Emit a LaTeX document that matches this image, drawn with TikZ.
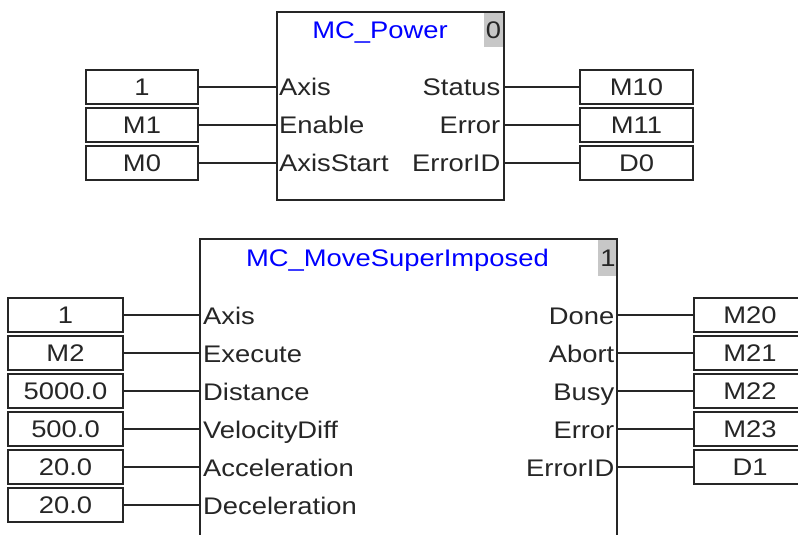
\documentclass[tikz,border=0pt]{standalone}
\usepackage{fontspec}
\setmainfont[FakeStretch=1.14]{Liberation Sans}
\begin{document}
\begin{tikzpicture}[x=1bp,y=-1bp,
  every node/.style={font=\fontsize{24bp}{28bp}\selectfont},
  wire/.style={line width=1.4bp, draw=black!85},
  valbox/.style={draw=black!85, line width=1.6bp, minimum height=34bp, inner sep=0pt, text height=17bp, text depth=0pt, text=black!85},
  pinin/.style={anchor=base west, inner sep=0pt, text=black!85},
  pinout/.style={anchor=base east, inner sep=0pt, text=black!85},
  fbtitle/.style={text=blue, inner sep=0pt, anchor=base}]
\clip (0,0) rectangle (798,535);
\fill[white] (0,0) rectangle (798,535);

% ---------- MC_Power block ----------
\fill[black!22] (484,11) rectangle (503,47);
\node[inner sep=0pt, text=black!85, anchor=base] (n0) at (493.5,38.5) {0};
\node[draw=black!85, line width=1.6bp, anchor=north west, minimum width=227bp, minimum height=188bp, inner sep=0pt] (pw) at (276,11) {};
\node[fbtitle] (pwt) at (380,39) {MC\_Power};

\foreach \y/\nm/\lbl in {87/a/Axis, 125/b/Enable, 163/c/AxisStart}{
  \node[pinin] (pwi\nm) at (279,\y+9) {\lbl};
  \coordinate (pwic\nm) at (276,\y);
}
\foreach \y/\nm/\lbl in {87/a/Status, 125/b/Error, 163/c/ErrorID}{
  \node[pinout] (pwo\nm) at (500.5,\y+9) {\lbl};
  \coordinate (pwoc\nm) at (503,\y);
}
\foreach \y/\nm/\v in {87/a/1, 125/b/M1, 163/c/M0}{
  \node[valbox, minimum width=112bp] (pwv\nm) at (142,\y) {\v};
  \draw[wire] (pwv\nm.east) -- (pwic\nm);
}
\foreach \y/\nm/\v in {87/a/M10, 125/b/M11, 163/c/D0}{
  \node[valbox, minimum width=113bp] (pwr\nm) at (636.5,\y) {\v};
  \draw[wire] (pwoc\nm) -- (pwr\nm.west);
}

% ---------- MC_MoveSuperImposed block ----------
\fill[black!22] (598,239) rectangle (617,276);
\node[inner sep=0pt, text=black!85, anchor=base] (n1) at (608,266.5) {1};
\draw[draw=black!85, line width=1.6bp] (200,545) -- (200,239) -- (617,239) -- (617,545);
\coordinate (ms) at (200,239);
\node[fbtitle] (mst) at (397.5,267) {MC\_MoveSuperImposed};

\foreach \y/\nm/\lbl/\v in {315/a/Axis/1, 353/b/Execute/M2, 391/c/Distance/5000.0, 429/d/VelocityDiff/500.0, 467/e/Acceleration/20.0, 505/f/Deceleration/20.0}{
  \node[pinin] (msi\nm) at (203,\y+9) {\lbl};
  \coordinate (msic\nm) at (200,\y);
  \node[valbox, minimum width=115bp] (msv\nm) at (65.5,\y) {\v};
  \draw[wire] (msv\nm.east) -- (msic\nm);
}
\foreach \y/\nm/\lbl/\v in {315/a/Done/M20, 353/b/Abort/M21, 391/c/Busy/M22, 429/d/Error/M23, 467/e/ErrorID/D1}{
  \node[pinout] (mso\nm) at (614.5,\y+9) {\lbl};
  \coordinate (msoc\nm) at (617,\y);
  \node[valbox, minimum width=112bp] (msr\nm) at (750,\y) {\v};
  \draw[wire] (msoc\nm) -- (msr\nm.west);
}
\end{tikzpicture}
\end{document}
